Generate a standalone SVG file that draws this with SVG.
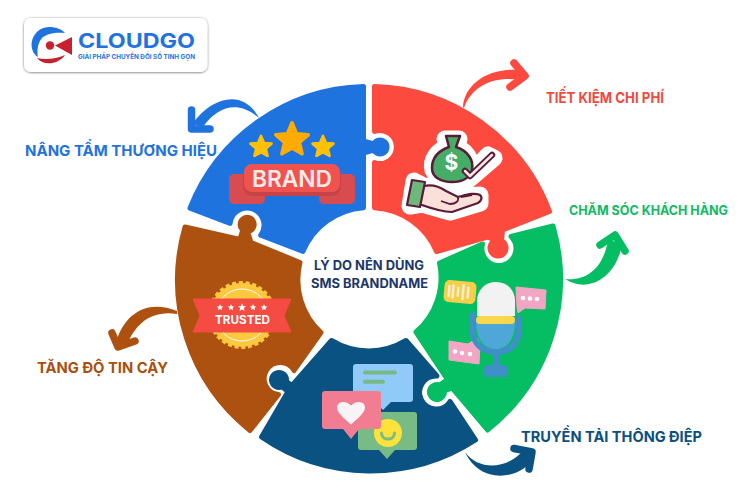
<svg xmlns="http://www.w3.org/2000/svg" width="750" height="500" viewBox="0 0 750 500">
<style>
text{font-family:Inter,"Noto Sans","Liberation Sans",sans-serif;font-weight:700}
.pc{stroke-width:5;stroke-linejoin:round}
.blue{fill:#1f73de;stroke:#1f73de}
.red{fill:#fd4a3f;stroke:#fd4a3f}
.green{fill:#05bd62;stroke:#05bd62}
.navy{fill:#0a5282;stroke:#0a5282}
.brown{fill:#ad5110;stroke:#ad5110}
.lbl{font-size:15px}
.shaft{stroke:none}
.head{fill:none;stroke-width:7.5;stroke-linecap:round;stroke-linejoin:round}
.dot{fill:#fff}
</style>
<defs>
<filter id="sh" x="-10%" y="-20%" width="120%" height="140%"><feDropShadow dx="0" dy="0.5" stdDeviation="1.3" flood-color="#000" flood-opacity="0.6"/></filter>
<polygon id="star" points="0,-1 .27,-.36 .951,-.309 .43,.14 .588,.809 0,.46 -.588,.809 -.43,.14 -.951,-.309 -.27,-.36"/>
</defs>
<rect width="750" height="500" fill="#fff"/>

<g id="logo">
<rect x="24" y="18" width="183.500" height="54" rx="7" fill="#fff" filter="url(#sh)"/>
<path d="M65,33 C58,26 45,25 38,31 C29,39 30,52 38,57 C37,52 37,44 42,38 C47,33 57,32 65,33 Z" fill="#1f73de"/>
<path d="M37,58 C45,60 56,59 65,55 C58,65 43,66 37,58 Z" fill="#c8202f"/>
<path d="M72,37 L72,55 L55,45.500 Z" fill="#c8202f"/>
<circle cx="50" cy="45.500" r="4.200" fill="#c8202f"/>
<text x="78" y="47.500" font-size="20.500" fill="#1f73de" textLength="117" lengthAdjust="spacingAndGlyphs">CLOUDGO</text>
<text x="78" y="59" font-size="6.500" fill="#1f73de" textLength="117" lengthAdjust="spacingAndGlyphs">GIẢI PHÁP CHUYỂN ĐỔI SỐ TINH GỌN</text>
</g>

<g id="connectors">
<g id="arrow-blue" fill="#1f73de" stroke="#1f73de">
<path class="shaft" d="M259,118 C246,92 216,92 192,124 L203,127 C218,106 238,100 259,118 Z"/>
<path class="head" d="M191.500,110 L191.500,129 L210,129"/>
</g>
<g id="arrow-red" fill="#fd4a3f" stroke="#fd4a3f">
<path class="shaft" d="M463,107 C464,85 488,67 520,70 L520,80 C495,76 472,85 464,108 Z"/>
<path class="head" d="M514,63 L525,76 L510,87"/>
</g>
<g id="arrow-green" fill="#05bd62" stroke="#05bd62">
<path class="shaft" d="M565,279 C585,281 603,270 608,240 L622,243 C618,275 590,295 565,279 Z"/>
<path class="head" d="M600,245 L615,235 L625,251"/>
</g>
<g id="arrow-navy" fill="#0a5282" stroke="#0a5282">
<path class="shaft" d="M465,452 C478,470 505,470 522,452 L534,458 C520,480 480,485 465,452 Z"/>
<path class="head" d="M514,448.500 L532,452 L529,469"/>
</g>
<g id="arrow-brown" fill="#ad5110" stroke="#ad5110">
<path class="shaft" d="M177,311 C150,300 125,310 115,345 L127,345 C135,325 150,310 177,314 Z"/>
<path class="head" d="M112,333 L118,347 L135,341"/>
</g>
</g>

<g id="node-blue">
<path class="pc blue" d="M363.500,86.600 A192.500,192.500 0 0 0 190,208.200 L230.100,223.400 A17,17 0 1 1 260.700,235.200 L303,251.400 A71.500,71.500 0 0 1 363.500,207.700 L363.500,153 L373.700,150 A7,7 0 1 0 373.700,144 L363.500,141 Z"/>
<rect x="229" y="174" width="36" height="30" rx="5" fill="#d84c4f"/>
<rect x="319" y="174" width="36" height="30" rx="5" fill="#d84c4f"/>
<rect x="243" y="166" width="98" height="30" rx="9" fill="#c84347"/>
<rect x="244" y="164" width="96" height="28" rx="8" fill="#ef5350"/>
<use href="#star" transform="translate(261,147) scale(11)" fill="#ffc107" stroke="#ffc107" stroke-width=".25" stroke-linejoin="round"/>
<use href="#star" transform="translate(292,140) scale(17)" fill="#ffab00" stroke="#ffab00" stroke-width=".22" stroke-linejoin="round"/>
<use href="#star" transform="translate(323,147) scale(11)" fill="#ffc107" stroke="#ffc107" stroke-width=".25" stroke-linejoin="round"/>
<text x="252" y="187" font-size="23" fill="#fdeaea" textLength="80" lengthAdjust="spacingAndGlyphs" style="font-weight:600">BRAND</text>
</g>

<g id="node-red">
<path class="pc red" d="M374.500,86.600 A192.500,192.500 0 0 1 549.500,211.500 L502.500,230 L501.500,240.800 A8,8 0 1 1 495.500,240.400 L487.500,237 L436.500,251.500 A71.500,71.500 0 0 0 374.500,207.700 L374.500,162.600 A16.500,16.500 0 1 0 374.500,131.400 Z"/>
<path d="M445,139 L459,139 L456,147 C470,152 474,167 470,174 L488,155 L494,158 L466,182 C452,184 438,180 433,170 C430,160 438,150 448,147 Z M424,186 L440,188 L458,197 L480,195 L480,203 L450,212 L422,204 L410,206 L414,181 Z" fill="#fff" stroke="#fff" stroke-width="17" stroke-linejoin="round"/>
<path d="M446,136 L460,136 L456,147 C468,151 474,160 472,170 C470,178 462,182 452,182 C442,182 432,178 432,168 C432,158 438,151 449,147 Z" fill="#45ad66" stroke="#5a1b3a" stroke-width="2.500" stroke-linejoin="round"/>
<text x="451.500" y="170" font-size="21" text-anchor="middle" fill="#fff">$</text>
<path d="M465,171 L470,176 L492,155" fill="none" stroke="#5a1b3a" stroke-width="6.500" stroke-linecap="round" stroke-linejoin="round"/>
<path d="M465,171 L470,176 L492,155" fill="none" stroke="#fbe6e1" stroke-width="2.500" stroke-linecap="round" stroke-linejoin="round"/>
<path d="M424,186 C432,184 440,187 446,191 L458,197 C466,195 474,192 480,195 C483,198 481,201 478,203 L452,212 C442,212 430,208 419,204 Z" fill="#fbdfd9" stroke="#5a1b3a" stroke-width="2.200" stroke-linejoin="round"/>
<path d="M458,197 C459,201 456,204 450,204 L441,201 M461,197 L472,195" fill="none" stroke="#5a1b3a" stroke-width="1.800"/>
<polygon points="412,180 425,182 420,207 407,205" fill="#6db97c" stroke="#5a1b3a" stroke-width="2.200" stroke-linejoin="round"/>
</g>

<g id="node-green">
<path class="pc green" d="M553,226 L511,236.500 A17,17 0 1 1 482.500,244 L439.500,263 A71.500,71.500 0 0 1 416,332 L447.500,379.500 L439.900,385.100 A7.500,7.500 0 1 0 444.300,390.500 L452,388 L487.500,430 A192.500,192.500 0 0 0 553,226 Z"/>
<g transform="rotate(5 460 292)">
<rect x="444" y="281" width="32" height="22" rx="5" fill="#f6cf4a"/>
<path d="M449,287 v10 M453,286 v12 M458,288 v8 M463,285 v14 M468,287 v10" stroke="#fbeed0" stroke-width="2.500" stroke-linecap="round"/>
</g>
<path d="M516,287 L546,290 L545,309 L525,308 L518,313 L517,307 Z" fill="#f2a6c4" stroke="#f2a6c4" stroke-width="1" stroke-linejoin="round"/>
<circle class="dot" cx="523" cy="298" r="2.300"/><circle class="dot" cx="530" cy="298.500" r="2.300"/><circle class="dot" cx="537" cy="299" r="2.300"/>
<path d="M449,341 L468,344 L477,338 L480,344 L479,364 L449,360 Z" fill="#f2a6c4" stroke="#f2a6c4" stroke-width="1" stroke-linejoin="round"/>
<circle class="dot" cx="455" cy="351.500" r="2.300"/><circle class="dot" cx="462" cy="353" r="2.300"/><circle class="dot" cx="470" cy="354" r="2.300"/>
<path d="M472,315 L472,330 C474,346 484,352 496,352 C508,352 518,346 519,330 L519,319" fill="none" stroke="#3f90c9" stroke-width="6" stroke-linecap="round"/>
<rect x="493" y="350" width="6" height="18" fill="#3f90c9"/>
<rect x="483" y="365" width="25" height="12" rx="5" fill="#3f90c9"/>
<path d="M476,322 L515,322 C515,338 508,349 495.500,349 C483,349 476,338 476,322 Z" fill="#4fa6d8"/>
<path d="M477,316 L477,301 C477,290 485,282 496,282 C507,282 515,290 515,301 L515,316 Z" fill="#f3f2f2"/>
<rect x="476" y="316" width="39" height="8" rx="4" fill="#f9d74c"/>
</g>

<g id="node-navy">
<path class="pc navy" d="M331.500,340.500 A71.500,71.500 0 0 0 406,340.500 L437,376 A16.500,16.500 0 1 0 450,401.500 L475.500,440 A192.500,192.500 0 0 1 261.500,437 L288,391.500 L282,386.800 A7.500,7.500 0 1 1 286.400,381.400 L292,385.500 Z"/>
<path d="M356,364 L410,364 Q413,364 413,367 L413,399 Q413,402 410,402 L391,402 L383,410 L375,402 L356,402 Q353,402 353,399 L353,367 Q353,364 356,364 Z" fill="#90caf9"/>
<rect x="363" y="370.500" width="34" height="4" rx="2" fill="#78b884"/>
<rect x="363" y="379.700" width="22" height="4" rx="2" fill="#78b884"/>
<path d="M361,412 L414,412 Q417,412 417,415 L417,447 Q417,450 414,450 L395,450 L387,459 L379,450 L361,450 Q358,450 358,447 L358,415 Q358,412 361,412 Z" fill="#79bb84"/>
<circle cx="388" cy="433" r="14" fill="#fde23a"/>
<path d="M381.500,433 C381.500,441 394.500,441 394.500,433" fill="none" stroke="#79bb84" stroke-width="3" stroke-linecap="round"/>
<path d="M325,391 L378,391 Q381,391 381,394 L381,426 Q381,429 378,429 L359,429 L351,439 L343,429 L325,429 Q322,429 322,426 L322,394 Q322,391 325,391 Z" fill="#f27d92"/>
<path d="M351,424.500 C345,419 337,413 337,407.500 C337,402 345,399.500 351,405.500 C357,399.500 365,402 365,407.500 C365,413 357,419 351,424.500 Z" fill="#f8f3f5"/>
</g>

<g id="node-brown">
<path class="pc brown" d="M185,227 L240,239.500 L242.800,229.900 A7,7 0 1 1 247.600,231.400 L251,242.500 L300,262.500 A71.500,71.500 0 0 0 321,332.500 L294,370.500 A16,16 0 1 0 278.500,394.500 L250,430.500 A192.500,192.500 0 0 1 185,227 Z"/>
<circle cx="242" cy="315" r="32" fill="#fdc83e" stroke="#fdc83e" stroke-width="4" stroke-dasharray="4 2.700" />
<circle cx="242" cy="315" r="31.500" fill="#fdc83e"/>
<circle cx="242" cy="315" r="26" fill="none" stroke="#fff" stroke-width="1"/>
<polygon points="193,299 291,299 284,315.500 291,332 193,332 200,315.500" fill="#f44b42" stroke="#f44b42" stroke-width="1" stroke-linejoin="round"/>
<use href="#star" transform="translate(220,307.500) scale(3.500)" fill="#fff"/>
<use href="#star" transform="translate(231,307.500) scale(3.500)" fill="#fff"/>
<use href="#star" transform="translate(242,307.500) scale(4.300)" fill="#fff"/>
<use href="#star" transform="translate(253,307.500) scale(3.500)" fill="#fff"/>
<use href="#star" transform="translate(264,307.500) scale(3.500)" fill="#fff"/>
<text x="215" y="324" font-size="11.500" fill="#fff" textLength="55" lengthAdjust="spacingAndGlyphs">TRUSTED</text>
</g>

<g id="labels">
<text class="lbl" x="25" y="156" fill="#1f73de" textLength="192" lengthAdjust="spacingAndGlyphs">NÂNG TẦM THƯƠNG HIỆU</text>
<text class="lbl" x="546" y="103" fill="#f04a40" textLength="118" lengthAdjust="spacingAndGlyphs">TIẾT KIỆM CHI PHÍ</text>
<text class="lbl" x="569" y="215" fill="#0fbb63" textLength="159" lengthAdjust="spacingAndGlyphs" style="font-size:13px">CHĂM SÓC KHÁCH HÀNG</text>
<text class="lbl" x="521" y="442" fill="#0b4f80" textLength="181" lengthAdjust="spacingAndGlyphs">TRUYỀN TẢI THÔNG ĐIỆP</text>
<text class="lbl" x="37" y="373" fill="#a9500f" textLength="131" lengthAdjust="spacingAndGlyphs">TĂNG ĐỘ TIN CẬY</text>
<text x="314" y="270" font-size="13" fill="#1c3768" textLength="110" lengthAdjust="spacingAndGlyphs">LÝ DO NÊN DÙNG</text>
<text x="311" y="288" font-size="13" fill="#1c3768" textLength="117" lengthAdjust="spacingAndGlyphs">SMS BRANDNAME</text>
</g>
</svg>
